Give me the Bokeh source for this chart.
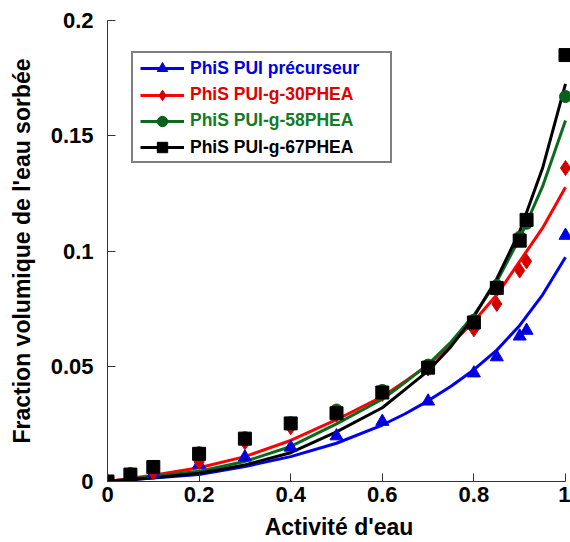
from bokeh.plotting import figure
from bokeh.models import Range1d, FixedTicker, Legend, LegendItem
from bokeh.embed import file_html
from bokeh.resources import INLINE

# ---- data ----
x_pts = [0, 0.05, 0.1, 0.2, 0.3, 0.4, 0.5, 0.6, 0.7, 0.8, 0.85, 0.9, 0.915, 1.0]
blue_pts = [0, 0.0015, 0.0033, 0.0074, 0.0105, 0.0148, 0.0197, 0.026, 0.0348, 0.047, 0.054, 0.063, 0.0655, 0.1067]
red_pts = [0, 0.0015, 0.004, 0.0085, 0.017, 0.0235, 0.029, 0.038, 0.049, 0.066, 0.077, 0.0915, 0.0955, 0.136]
green_pts = [0, 0.0035, 0.0065, 0.0125, 0.019, 0.0255, 0.031, 0.0395, 0.0505, 0.070, 0.085, 0.106, 0.112, 0.167]
black_pts = [0, 0.003, 0.0063, 0.012, 0.0186, 0.0252, 0.0296, 0.0386, 0.0494, 0.069, 0.084, 0.1045, 0.1135, 0.185]

x_fit = [0, 0.1, 0.2, 0.3, 0.4, 0.5, 0.6, 0.65, 0.7, 0.75, 0.8, 0.85, 0.9, 0.95, 1.0]
blue_fit = [0, 0.0015, 0.003, 0.0065, 0.0108, 0.0166, 0.0245, 0.0294, 0.035, 0.0413, 0.0485, 0.057, 0.0677, 0.081, 0.0973]
red_fit = [0, 0.0027, 0.006, 0.0108, 0.0178, 0.0268, 0.0368, 0.0435, 0.0505, 0.0595, 0.0695, 0.081, 0.0955, 0.110, 0.1277]
green_fit = [0, 0.0022, 0.0045, 0.0087, 0.0152, 0.025, 0.0357, 0.043, 0.0508, 0.0605, 0.0722, 0.0868, 0.1055, 0.128, 0.1566]
black_fit = [0, 0.0016, 0.0036, 0.0072, 0.0125, 0.0215, 0.032, 0.040, 0.048, 0.0585, 0.0715, 0.088, 0.1085, 0.136, 0.1725]

labels = ["PhiS PUI précurseur", "PhiS PUI-g-30PHEA", "PhiS PUI-g-58PHEA", "PhiS PUI-g-67PHEA"]
line_colors = ["#0000f0", "#ff0000", "#0a6b1e", "#000000"]
marker_colors = ["#0000e0", "#d40000", "#0a5f1a", "#000000"]
text_colors = ["#0000e0", "#e00000", "#137a26", "#000000"]
markers = ["triangle", "diamond", "circle", "square"]
marker_sizes = [13, 15, 12, 13]

x_ticks = [0, 0.2, 0.4, 0.6, 0.8, 1.0]
x_tick_labels = ["0", "0.2", "0.4", "0.6", "0.8", "1"]
y_ticks = [0, 0.05, 0.1, 0.15, 0.2]
y_tick_labels = ["0", "0.05", "0.1", "0.15", "0.2"]

FONT = "Liberation Sans"

p = figure(width=570, height=542, output_backend="svg", toolbar_location=None,
           x_range=Range1d(0, 1 + 5 / 458), y_range=Range1d(0, 0.2),
           min_border_left=107, min_border_right=0, min_border_top=20, min_border_bottom=61)
p.outline_line_color = None
p.grid.visible = False
p.background_fill_color = "white"
p.border_fill_color = "white"

for ax, ticks, tlabels, label in ((p.xaxis[0], x_ticks, x_tick_labels, "Activité d'eau"),
                                  (p.yaxis[0], y_ticks, y_tick_labels, "Fraction volumique de l'eau sorbée")):
    ax.ticker = FixedTicker(ticks=ticks)
    ax.major_label_overrides = {t: l for t, l in zip(ticks, tlabels)}
    ax.axis_label = label
    ax.axis_label_text_font = FONT
    ax.axis_label_text_font_style = "bold"
    ax.axis_label_text_font_size = "23px"
    ax.axis_label_text_color = "black"
    ax.major_label_text_font = FONT
    ax.major_label_text_font_style = "bold"
    ax.major_label_text_font_size = "22px"
    ax.major_label_text_color = "black"
    ax.axis_line_color = "#333333"
    ax.major_tick_line_color = "#333333"
    ax.major_tick_in = 8
    ax.major_tick_out = 0
    ax.minor_tick_line_color = None
    ax.bounds = (0, ticks[-1])

p.xaxis[0].major_label_standoff = 5
p.xaxis[0].axis_label_standoff = 9
p.yaxis[0].major_label_standoff = 14
p.yaxis[0].axis_label_standoff = 13

fits = [blue_fit, red_fit, green_fit, black_fit]
pts = [blue_pts, red_pts, green_pts, black_pts]

line_rs = []
for yf, c in zip(fits, line_colors):
    line_rs.append(p.line(x_fit, yf, line_color=c, line_width=3))
sc_rs = []
for yp, c, m, s in zip(pts, marker_colors, markers, marker_sizes):
    sc_rs.append(p.scatter(x_pts, yp, marker=m, size=s, fill_color=c, line_color=c))

# legend frame: a one-item legend whose invisible glyph sets the box size
dummy = p.line([], [], line_alpha=0)
box = Legend(items=[LegendItem(label=" ", renderers=[dummy])], location=(24, 318),
             glyph_width=237, glyph_height=108, label_height=20, label_standoff=0, padding=0,
             margin=0, label_text_font_size="1px",
             border_line_color="black", border_line_width=2,
             background_fill_color="white", background_fill_alpha=1)
p.add_layout(box, "center")

# one legend per entry so that each label keeps its series colour
row_bottoms = [399.7, 373.4, 347.1, 320.8]
for lab, lr, sr, tc, yb in zip(labels, line_rs, sc_rs, text_colors, row_bottoms):
    leg = Legend(items=[LegendItem(label=lab, renderers=[lr, sr])], location=(33, yb),
                 glyph_width=44, glyph_height=26, label_height=20, label_standoff=6,
                 padding=0, margin=0, label_text_font=FONT, label_text_font_style="bold",
                 label_text_font_size="17.5px", label_text_color=tc,
                 border_line_color=None, background_fill_alpha=0)
    p.add_layout(leg, "center")

open("out.html", "w").write(file_html(p, INLINE))
